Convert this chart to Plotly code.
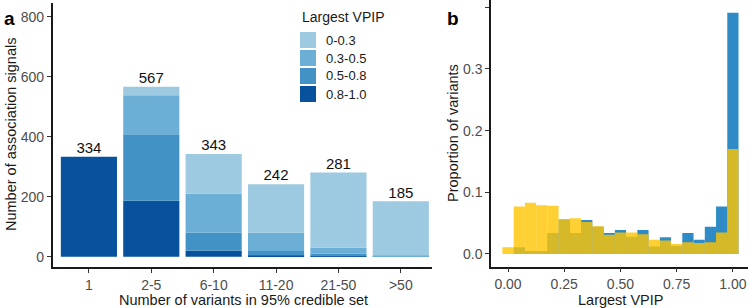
import plotly.graph_objects as go

# Panel a data
size_cats = ["1", "2-5", "6-10", "11-20", "21-50", ">50"]
totals = [334, 567, 343, 242, 281, 185]
vpip_groups = ["0.8-1.0", "0.5-0.8", "0.3-0.5", "0-0.3"]
vpip_colors = ["#08519C", "#4292C6", "#6BAED6", "#9ECAE1"]
seg_08_10 = [334, 187, 20, 4, 2, 0]
seg_05_08 = [0, 222, 61, 15, 8, 1]
seg_03_05 = [0, 130, 129, 61, 20, 3]
seg_00_03 = [0, 28, 133, 162, 251, 181]
segments = [seg_08_10, seg_05_08, seg_03_05, seg_00_03]

# Panel b data
bin_centers = [0.00, 0.05, 0.10, 0.15, 0.20, 0.25, 0.30, 0.35, 0.40, 0.45, 0.50,
               0.55, 0.60, 0.65, 0.70, 0.75, 0.80, 0.85, 0.90, 0.95, 1.00]
prop_blue = [0.000, 0.011, 0.005, 0.005, 0.034, 0.056, 0.034, 0.055, 0.044, 0.034, 0.039,
             0.028, 0.039, 0.012, 0.027, 0.013, 0.034, 0.023, 0.044, 0.077, 0.391]
prop_yellow = [0.011, 0.077, 0.083, 0.079, 0.078, 0.056, 0.058, 0.052, 0.045, 0.031, 0.035,
               0.035, 0.032, 0.023, 0.022, 0.016, 0.019, 0.018, 0.019, 0.035, 0.170]

FONT = "Liberation Sans, Arial"
W, H = 750, 308

fig = go.Figure()

base = [0] * len(size_cats)
for name, color, vals in zip(vpip_groups, vpip_colors, segments):
    fig.add_trace(go.Bar(x=list(range(len(size_cats))), y=vals, base=list(base), name=name,
                         marker=dict(color=color, line=dict(width=0)),
                         width=0.9, xaxis="x", yaxis="y", showlegend=False,
                         hoverinfo="y"))
    base = [b + v for b, v in zip(base, vals)]

fig.add_trace(go.Scatter(x=list(range(len(size_cats))), y=totals, mode="text",
                         text=[str(t) for t in totals], textposition="top center",
                         textfont=dict(size=15, color="#111111", family=FONT),
                         xaxis="x", yaxis="y", showlegend=False, cliponaxis=False))

fig.add_trace(go.Bar(x=bin_centers, y=prop_blue, width=0.05, xaxis="x2", yaxis="y2",
                     marker=dict(color="#2E8BC6", line=dict(width=0)), showlegend=False))
fig.add_trace(go.Bar(x=bin_centers, y=prop_yellow, width=0.05, xaxis="x2", yaxis="y2",
                     marker=dict(color="rgba(255,196,0,0.8)", line=dict(width=0)), showlegend=False))

tickfont = dict(size=14, color="#4D4D4D", family=FONT)
axis_common = dict(showline=True, linecolor="#1a1a1a", linewidth=1.6, ticks="outside",
                   ticklen=4, tickwidth=1.3, tickcolor="#333333", showgrid=False,
                   zeroline=False, tickfont=tickfont, automargin=False)

fig.update_layout(
    width=W, height=H, margin=dict(l=0, r=0, t=0, b=0, autoexpand=False),
    paper_bgcolor="white", plot_bgcolor="white", barmode="overlay",
    font=dict(family=FONT),
    xaxis=dict(domain=[0.0703, 0.576], range=[-0.58, 5.5],
               tickvals=list(range(len(size_cats))), ticktext=size_cats, **axis_common),
    yaxis=dict(domain=[0.1331, 0.99], range=[-34, 846], tickvals=[0, 200, 400, 600, 800],
               **axis_common),
    xaxis2=dict(domain=[0.6547, 0.9973], range=[-0.0756, 1.067],
                tickvals=[0, 0.25, 0.5, 0.75, 1.0], ticktext=["0.00", "0.25", "0.50", "0.75", "1.00"],
                anchor="y2", **axis_common),
    yaxis2=dict(domain=[0.1341, 1.0], range=[-0.0206, 0.4117],
                tickvals=[0, 0.1, 0.2, 0.3, 0.4], ticktext=["0.0", "0.1", "0.2", "0.3", "0.4"],
                anchor="x2", **axis_common),
)

shapes = []
annotations = []


def ann(x, y, text, size, color="#1a1a1a", xanchor="center", angle=0):
    annotations.append(dict(xref="paper", yref="paper", x=x / W, y=1 - y / H, text=text,
                            showarrow=False, xanchor=xanchor, yanchor="middle", textangle=angle,
                            font=dict(size=size, color=color, family=FONT)))


# Legend (manual)
leg_x0, leg_y0, key, gap = 300, 32, 16, 18
legend_order = list(zip(vpip_groups, vpip_colors))[::-1]
for k, (name, color) in enumerate(legend_order):
    y0 = leg_y0 + k * gap
    shapes.append(dict(type="rect", xref="paper", yref="paper",
                       x0=leg_x0 / W, x1=(leg_x0 + key) / W,
                       y0=1 - (y0 + key) / H, y1=1 - y0 / H,
                       fillcolor=color, line=dict(width=0)))
    ann(leg_x0 + 24, y0 + key / 2, name, 13, xanchor="left")
ann(leg_x0, 17, "Largest VPIP", 14, xanchor="left")

# axis titles
ann(243, 300, "Number of variants in 95% credible set", 14.5)
ann(11, 135, "Number of association signals", 14.5, angle=-90)
ann(620, 300, "Largest VPIP", 14.5)
ann(453, 133, "Proportion of variants", 14.5, angle=-90)

# panel tags
ann(2, 19, "<b>a</b>", 19, color="black", xanchor="left")
ann(445, 19, "<b>b</b>", 19, color="black", xanchor="left")

fig.update_layout(shapes=shapes, annotations=annotations)

fig.write_html("out.html", config={"displayModeBar": False},
               post_script="document.body.style.margin='0';document.body.style.padding='0';")
